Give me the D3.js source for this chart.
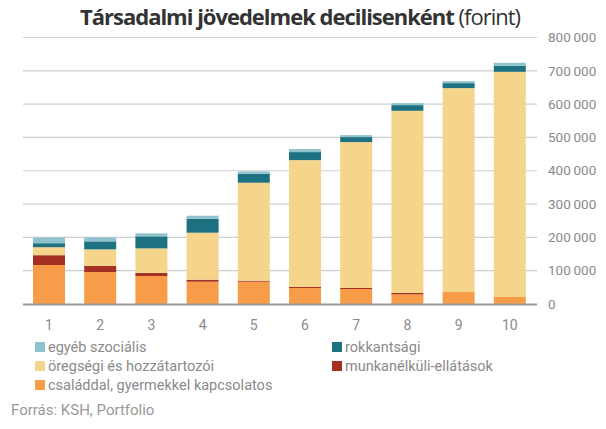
<!DOCTYPE html>
<html><head><meta charset="utf-8">
<script src="https://cdn.jsdelivr.net/npm/d3@7"></script>
<style>body{margin:0;background:#fff}svg{display:block}</style>
</head><body>
<svg id="c" width="606" height="429"></svg>
<script>
const categories = ["1","2","3","4","5","6","7","8","9","10"];
const csalad  = [117000, 96000, 84000, 67000, 67000, 48000, 45000, 29000, 36000, 21000];
const munka   = [29500, 18000, 9000, 6000, 3000, 3000, 3000, 4000, 0, 0];
const oreg    = [24000, 50000, 74000, 141000, 294000, 381000, 438000, 547000, 612000, 676000];
const rokk    = [12000, 24000, 36000, 42000, 27000, 24000, 15000, 17000, 15000, 18000];
const egyeb   = [17000, 12000, 9000, 9000, 7000, 9000, 6000, 6000, 6000, 9000];
const yTicks  = [0,100000,200000,300000,400000,500000,600000,700000,800000];

const seriesNames = ["családdal, gyermekkel kapcsolatos","munkanélküli-ellátások","öregségi és hozzátartozói","rokkantsági","egyéb szociális"];
const seriesVals = [csalad, munka, oreg, rokk, egyeb];
const colors = ["#F79C48","#A33022","#F5D48B","#1E7180","#8EC3CD"];

const svg = d3.select("#c");
const x = d3.scaleBand().domain(categories).range([23.4, 535.4]).paddingInner(0.375).paddingOuter(0.1875);
const y = d3.scaleLinear().domain([0, 800000]).range([304, 37.5]);

// grid
svg.append("g").selectAll("line").data(yTicks.filter(d=>d>0)).join("line")
  .attr("x1", 23).attr("x2", 537).attr("y1", d=>y(d)).attr("y2", d=>y(d))
  .attr("stroke", "#d0d0d0").attr("stroke-width", 1.2);

// stacks
const rows = categories.map((c,i)=>{const o={cat:c}; seriesVals.forEach((s,k)=>o["s"+k]=s[i]); return o;});
const stack = d3.stack().keys(seriesVals.map((s,k)=>"s"+k));
const layers = stack(rows);
svg.append("g").selectAll("g").data(layers).join("g").attr("fill",(d,i)=>colors[i])
  .selectAll("rect").data(d=>d).join("rect")
  .attr("x", d=>x(d.data.cat)).attr("width", x.bandwidth())
  .attr("y", d=>y(d[1])).attr("height", d=>Math.max(0, y(d[0])-y(d[1])));

// baseline
svg.append("line").attr("x1",23).attr("x2",537).attr("y1",y(0)+0.5).attr("y2",y(0)+0.5)
  .attr("stroke","#999").attr("stroke-width",2);

// y labels
const fmt = d => d3.format(",")(d).replace(/,/g, "\u2009");
svg.append("g").selectAll("text").data(yTicks).join("text")
  .attr("x", 548).attr("y", d=>y(d)).attr("dy","0.35em")
  .attr("font-family","Roboto").attr("font-size",13.5).attr("fill","#8a8a8a")
  .text(d=>d===0?"0":fmt(d));

// x labels
svg.append("g").selectAll("text").data(categories).join("text")
  .attr("x", d=>x(d)+x.bandwidth()/2).attr("y", 325).attr("dy","0.35em")
  .attr("text-anchor","middle")
  .attr("font-family","Roboto").attr("font-size",14).attr("fill","#8a8a8a")
  .text(d=>d);

// title
const t = svg.append("text").attr("x", 80).attr("y", 25)
  .attr("font-family","Open Sans").attr("font-size",22).attr("fill","#333");
t.append("tspan").attr("font-weight","bold").text("Társadalmi jövedelmek decilisenként");
t.append("tspan").attr("font-weight","normal").text(" (forint)");
{
  const n = t.text().length;
  const w = t.node().getComputedTextLength();
  const target = 440;
  t.attr("letter-spacing", ((target - w) / n).toFixed(3) + "px");
}

// legend
const legend = [
  {i:4, x:35, y:347},{i:3, x:332, y:347},
  {i:2, x:35, y:366},{i:1, x:332, y:366},
  {i:0, x:35, y:385}
];
const lg = svg.append("g").selectAll("g").data(legend).join("g").attr("transform",d=>`translate(${d.x},${d.y})`);
lg.append("rect").attr("x",0).attr("y",-5).attr("width",10).attr("height",10).attr("fill",d=>colors[d.i]);
lg.append("text").attr("x",13).attr("dy","0.35em").attr("font-family","Roboto").attr("font-size",14.5)
  .attr("fill","#8a8a8a").text(d=>seriesNames[d.i]);

svg.append("text").attr("x",11).attr("y",410).attr("dy","0.35em").attr("font-family","Roboto")
  .attr("font-size",15).attr("fill","#999").text("Forrás: KSH, Portfolio");
</script>
</body></html>
